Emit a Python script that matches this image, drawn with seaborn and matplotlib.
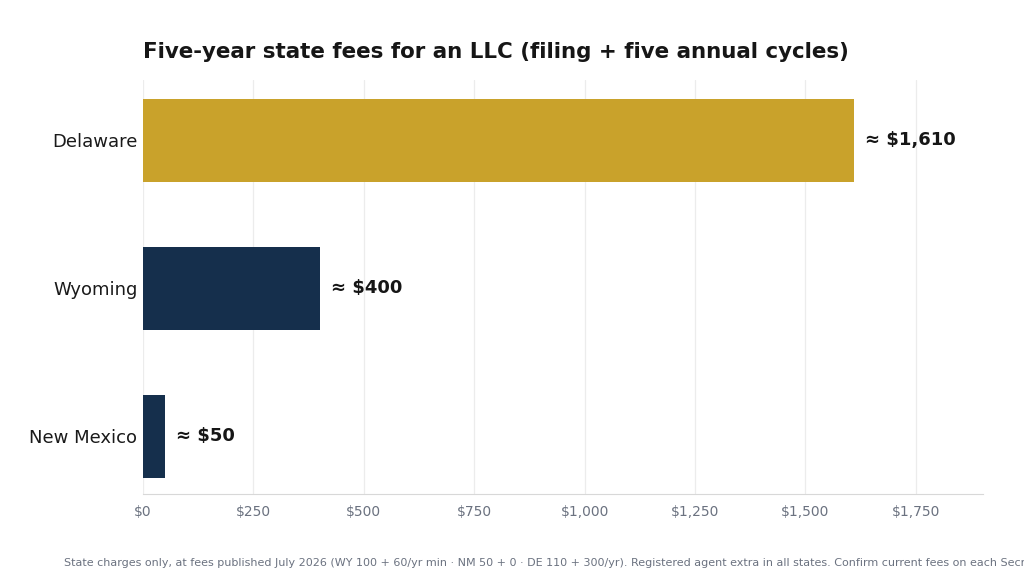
import matplotlib
matplotlib.use("Agg")
import matplotlib.pyplot as plt
import seaborn as sns
from matplotlib.ticker import FuncFormatter

# Data
states = ["Delaware", "Wyoming", "New Mexico"]
fees = [1610, 400, 50]
colors = ["#C9A22B", "#152F4C", "#152F4C"]
labels = ["≈ $1,610", "≈ $400", "≈ $50"]

sns.set_style("white")
plt.rcParams["font.family"] = ["DejaVu Sans"]

fig = plt.figure(figsize=(10.24, 5.76), dpi=100)
ax = fig.add_axes([0.1396, 0.142, 0.8204, 0.719])

sns.barplot(x=fees, y=states, hue=states, palette=colors, orient="h",
            width=0.56, saturation=1, linewidth=0, legend=False, ax=ax)

for i, (v, lab) in enumerate(zip(fees, labels)):
    ax.text(v + 25, i, lab, va="center", ha="left", fontsize=13,
            fontweight="bold", color="#161616")

ax.set_xlim(0, 1902)
ax.set_ylim(2.39, -0.405)
ax.set_xticks([0, 250, 500, 750, 1000, 1250, 1500, 1750])
ax.xaxis.set_major_formatter(FuncFormatter(lambda x, p: f"${x:,.0f}"))
ax.grid(axis="x", color="#ececec", linewidth=0.9)
ax.set_axisbelow(True)
ax.set_xlabel("")
ax.set_ylabel("")

ax.tick_params(axis="x", colors="#6b7280", labelsize=10, length=4, color="#bbbbbb")
ax.tick_params(axis="y", labelsize=13, length=0, pad=4, labelcolor="#1a1a1a")

for s in ["top", "right", "left"]:
    ax.spines[s].set_visible(False)
ax.spines["bottom"].set_color("#d8d8d8")

fig.text(0.1396, 0.91, "Five-year state fees for an LLC (filing + five annual cycles)",
         fontsize=15.4, fontweight="bold", color="#161616", ha="left", va="center")

fig.text(0.0625, 0.022,
         "State charges only, at fees published July 2026 (WY 100 + 60/yr min · NM 50 + 0 · DE 110 + 300/yr). "
         "Registered agent extra in all states. Confirm current fees on each Secretary of State website.",
         fontsize=8, color="#6b7280", ha="left", va="center")

fig.savefig("out.png", dpi=100)
